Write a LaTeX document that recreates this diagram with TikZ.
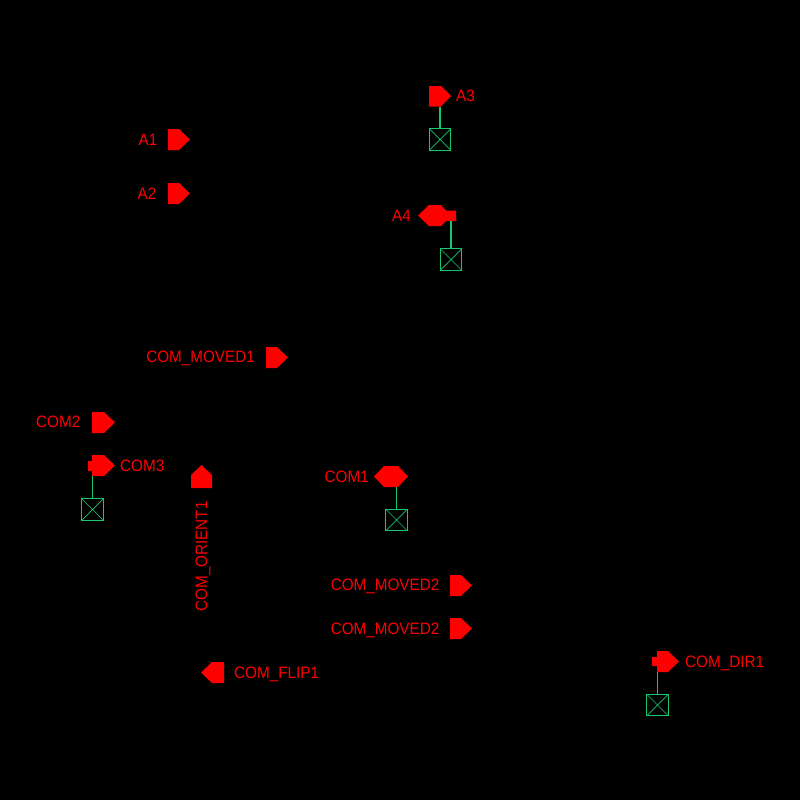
\documentclass[tikz,border=0pt]{standalone}
\usepackage{fontspec}
\setmainfont[FakeStretch=0.925]{Liberation Sans}
\definecolor{wiregreen}{RGB}{20,200,110}
\tikzset{
  pin/.style={fill=red,draw=none},
  wire/.style={draw=wiregreen,line width=1.2pt},
  viabox/.style={draw=wiregreen,line width=1.2pt,fill=none,minimum size=21.5pt,inner sep=0pt,
    path picture={\draw[wiregreen,line width=.7pt] (path picture bounding box.south west)--(path picture bounding box.north east)
      (path picture bounding box.north west)--(path picture bounding box.south east);}},
  lab/.style={text=red,font=\fontsize{16.5}{16.5}\selectfont,inner sep=0pt,text height=12pt,text depth=0pt},
  labr/.style={lab,anchor=west},
  labl/.style={lab,anchor=east}
}
\begin{document}
\begin{tikzpicture}[x=1pt,y=-1pt]
\useasboundingbox (0,0) rectangle (800,800);
\fill[black] (0,0) rectangle (800,800);
% right-pointing pins
\fill[pin] (168,129)--(179,129)--(190,139.5)--(179,150)--(168,150)--cycle;
\fill[pin] (168,183)--(179,183)--(190,193.5)--(179,204)--(168,204)--cycle;
\fill[pin] (429,86)--(441,86)--(451,96)--(441,106.5)--(429,106.5)--cycle;
\fill[pin] (266,347)--(277,347)--(288,357.5)--(277,368)--(266,368)--cycle;
\fill[pin] (92,412)--(104,412)--(115,422.5)--(104,433)--(92,433)--cycle;
\fill[pin] (450,575)--(461,575)--(472,585.5)--(461,596)--(450,596)--cycle;
\fill[pin] (450,618)--(461,618)--(472,628.5)--(461,639)--(450,639)--cycle;
% pins with stub
\fill[pin] (92,455)--(104,455)--(115,465.5)--(104,476)--(92,476)--(92,471)--(88,471)--(88,461)--(92,461)--cycle;
\fill[pin] (657,651)--(668,651)--(679,661.5)--(668,672)--(657,672)--(657,666)--(652,666)--(652,657)--(657,657)--cycle;
\fill[pin] (418,215.5)--(429,205)--(441,205)--(446,210.5)--(456,210.5)--(456,221)--(446,221)--(441,226)--(429,226)--cycle;
% bidirectional
\fill[pin] (374,476.5)--(384,466)--(398,466)--(408,476.5)--(398,487)--(384,487)--cycle;
% up and left
\fill[pin] (191,488)--(191,475)--(201.5,465)--(212,475)--(212,488)--cycle;
\fill[pin] (201,672.5)--(212,662)--(224,662)--(224,683)--(212,683)--cycle;
% vias and connectors
\node[viabox] (v1) at (440,139.5) {};
\node[viabox] (v2) at (451,259.5) {};
\node[viabox] (v3) at (92.5,509.5) {};
\node[viabox] (v4) at (396.5,520) {};
\node[viabox] (v5) at (657.5,705) {};
\coordinate (p1) at (440,106.5);
\coordinate (p2) at (451,221);
\coordinate (p3) at (92.5,476);
\coordinate (p4) at (396.5,487);
\coordinate (p5) at (657.5,672);
\draw[wire] (p1)--(v1.north);
\draw[wire] (p2)--(v2.north);
\draw[wire] (p3)--(v3.north);
\draw[wire] (p4)--(v4.north);
\draw[wire] (p5)--(v5.north);
% labels
\node[labl] (a1) at (157.5,139.5) {A1};
\node[labl] (a2) at (156.5,193.5) {A2};
\node[labr] (a3) at (456,95.5) {A3};
\node[labl] (a4) at (411,215.5) {A4};
\node[labl] (m1) at (255,356.5) {COM\_MOVED1};
\node[labl] (c2) at (80.5,421.5) {COM2};
\node[labr] (c3) at (120,465.5) {COM3};
\node[labl] (c1) at (369,476.5) {COM1};
\node[labl] (m2) at (439.5,584.5) {COM\_MOVED2};
\node[labl] (m3) at (439.5,628) {COM\_MOVED2};
\node[labr] (fl) at (234,672) {COM\_FLIP1};
\node[labr] (di) at (685,661) {COM\_DIR1};
\node[lab,anchor=east,rotate=90] (or) at (201,501) {COM\_ORIENT1};
\end{tikzpicture}
\end{document}
